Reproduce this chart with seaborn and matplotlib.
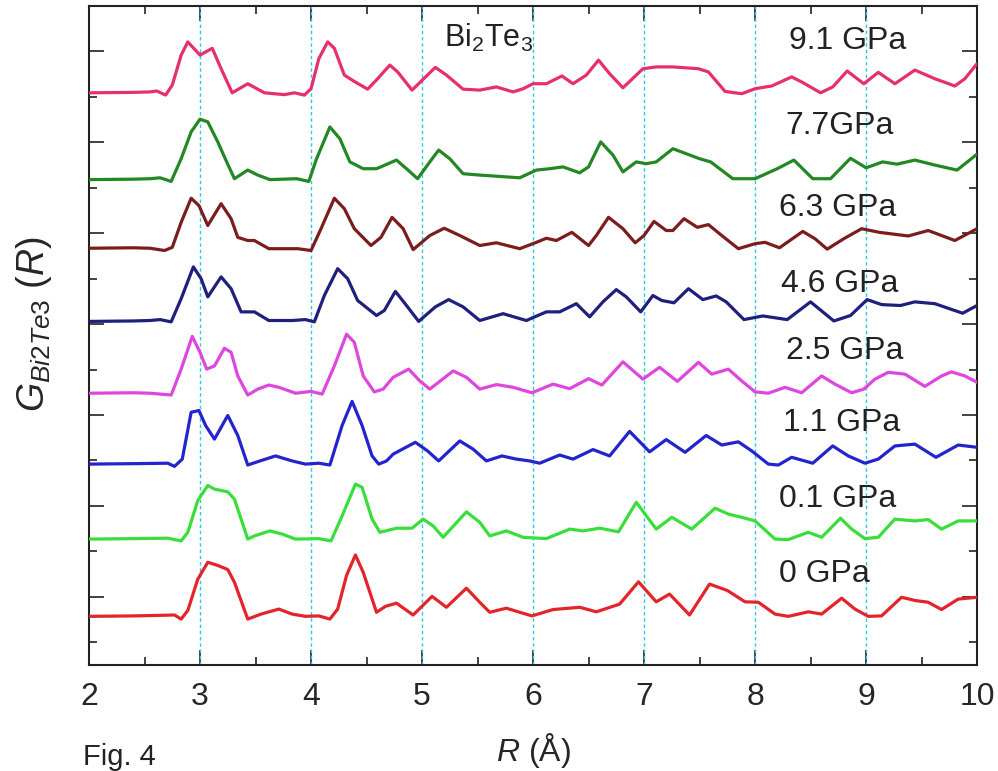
import numpy as np
import pandas as pd
import matplotlib
matplotlib.use("Agg")
import matplotlib.pyplot as plt
import seaborn as sns

# pressure labels, bottom to top
pressures = ["0 GPa", "0.1 GPa", "1.1 GPa", "2.5 GPa", "4.6 GPa", "6.3 GPa", "7.7GPa", "9.1 GPa"]
offsets = [0.57, 2.27, 3.92, 5.48, 7.06, 8.67, 10.18, 12.08]
colors = ["#e3242b", "#3ade3a", "#2424cf", "#df46df", "#1f1f7d", "#7c1d1d", "#238823", "#e5306c"]

# G(R), (R, G) relative to each curve's baseline
p00 = [(2.00, 0.00), (2.40, 0.01), (2.60, 0.02), (2.77, 0.03), (2.83, -0.06), (2.89, 0.13), (2.98, 0.82),
       (3.07, 1.19), (3.16, 1.12), (3.25, 1.03), (3.31, 0.75), (3.43, -0.06), (3.55, 0.05), (3.71, 0.16),
       (3.83, 0.05), (3.95, 0.00), (4.07, 0.01), (4.17, -0.06), (4.24, 0.16), (4.32, 0.90), (4.40, 1.35),
       (4.47, 0.97), (4.59, 0.09), (4.67, 0.22), (4.77, 0.29), (4.92, 0.03), (5.09, 0.44), (5.22, 0.20),
       (5.40, 0.62), (5.52, 0.31), (5.61, 0.09), (5.76, 0.18), (5.88, 0.09), (5.99, 0.01), (6.18, 0.15),
       (6.42, 0.20), (6.57, 0.10), (6.78, 0.27), (6.95, 0.76), (7.11, 0.32), (7.23, 0.49), (7.41, 0.03),
       (7.59, 0.71), (7.75, 0.57), (7.91, 0.32), (8.03, 0.31), (8.18, 0.05), (8.30, 0.00), (8.48, 0.10),
       (8.60, 0.05), (8.78, 0.40), (8.90, 0.16), (9.02, 0.00), (9.14, 0.01), (9.32, 0.42), (9.44, 0.35),
       (9.56, 0.31), (9.68, 0.15), (9.83, 0.38), (10.00, 0.42)]
p01 = [(2.00, 0.00), (2.40, 0.01), (2.71, 0.02), (2.83, -0.04), (2.89, 0.15), (2.98, 0.85), (3.07, 1.18),
       (3.13, 1.10), (3.25, 1.04), (3.31, 0.88), (3.43, 0.00), (3.49, 0.07), (3.63, 0.18), (3.74, 0.11),
       (3.86, 0.00), (4.07, 0.01), (4.18, -0.04), (4.28, 0.51), (4.40, 1.21), (4.46, 1.14), (4.55, 0.44),
       (4.62, 0.15), (4.77, 0.24), (4.91, 0.24), (5.01, 0.44), (5.10, 0.29), (5.19, 0.04), (5.40, 0.60),
       (5.52, 0.37), (5.61, 0.07), (5.76, 0.18), (5.91, 0.04), (6.12, 0.01), (6.33, 0.22), (6.45, 0.18),
       (6.60, 0.24), (6.77, 0.16), (6.93, 0.81), (7.11, 0.22), (7.25, 0.48), (7.43, 0.22), (7.64, 0.68),
       (7.76, 0.55), (7.88, 0.48), (8.00, 0.40), (8.18, 0.00), (8.30, -0.01), (8.48, 0.15), (8.60, 0.04),
       (8.77, 0.46), (8.87, 0.22), (8.99, 0.01), (9.11, 0.04), (9.26, 0.44), (9.44, 0.40), (9.56, 0.43),
       (9.68, 0.22), (9.83, 0.40), (10.00, 0.40)]
p11 = [(2.00, 0.00), (2.40, 0.01), (2.71, 0.02), (2.77, -0.05), (2.84, 0.11), (2.92, 1.14), (2.99, 1.18),
       (3.05, 0.85), (3.13, 0.55), (3.25, 1.07), (3.34, 0.63), (3.43, -0.02), (3.54, 0.07), (3.68, 0.18),
       (3.83, 0.07), (3.95, 0.00), (4.07, 0.02), (4.17, -0.02), (4.28, 0.85), (4.37, 1.38), (4.46, 0.85),
       (4.55, 0.18), (4.61, 0.00), (4.68, 0.07), (4.74, 0.22), (4.94, 0.48), (5.05, 0.29), (5.15, 0.07),
       (5.34, 0.51), (5.46, 0.33), (5.58, 0.07), (5.72, 0.18), (5.85, 0.11), (5.97, 0.07), (6.06, 0.02),
       (6.24, 0.20), (6.36, 0.11), (6.54, 0.32), (6.69, 0.18), (6.87, 0.72), (7.05, 0.27), (7.20, 0.54),
       (7.37, 0.26), (7.56, 0.63), (7.70, 0.42), (7.85, 0.49), (7.97, 0.29), (8.12, 0.00), (8.21, -0.02),
       (8.33, 0.15), (8.52, 0.02), (8.70, 0.40), (8.84, 0.18), (8.99, 0.02), (9.11, 0.11), (9.26, 0.40),
       (9.44, 0.44), (9.63, 0.15), (9.83, 0.42), (10.00, 0.37)]
p25 = [(2.00, 0.00), (2.40, 0.01), (2.55, 0.00), (2.74, -0.04), (2.83, 0.53), (2.93, 1.25), (3.00, 0.90),
       (3.06, 0.53), (3.13, 0.60), (3.22, 0.99), (3.28, 0.90), (3.34, 0.38), (3.43, -0.04), (3.52, 0.09),
       (3.62, 0.18), (3.71, 0.13), (3.86, 0.00), (4.00, 0.04), (4.10, -0.02), (4.21, 0.60), (4.32, 1.30),
       (4.39, 1.12), (4.47, 0.38), (4.57, 0.03), (4.65, 0.09), (4.74, 0.35), (4.88, 0.53), (4.98, 0.27),
       (5.07, 0.09), (5.28, 0.49), (5.40, 0.35), (5.52, 0.09), (5.67, 0.19), (5.82, 0.13), (5.99, 0.01),
       (6.18, 0.20), (6.33, 0.10), (6.50, 0.32), (6.62, 0.18), (6.81, 0.69), (6.99, 0.31), (7.14, 0.57),
       (7.30, 0.26), (7.49, 0.68), (7.61, 0.42), (7.76, 0.53), (7.88, 0.27), (8.00, 0.03), (8.12, 0.00),
       (8.27, 0.13), (8.42, 0.01), (8.60, 0.38), (8.72, 0.20), (8.87, 0.01), (8.98, 0.09), (9.08, 0.31),
       (9.20, 0.46), (9.35, 0.42), (9.53, 0.15), (9.68, 0.38), (9.77, 0.47), (9.89, 0.38), (10.00, 0.24)]
p46 = [(2.00, 0.00), (2.40, 0.01), (2.55, 0.02), (2.64, 0.04), (2.74, -0.01), (2.83, 0.50), (2.94, 1.20),
       (3.01, 0.94), (3.07, 0.54), (3.19, 0.98), (3.28, 0.72), (3.37, 0.21), (3.49, 0.21), (3.62, 0.02),
       (3.83, 0.02), (3.95, 0.04), (4.03, -0.01), (4.12, 0.57), (4.24, 1.16), (4.33, 0.94), (4.42, 0.46),
       (4.59, 0.13), (4.66, 0.24), (4.76, 0.66), (4.86, 0.35), (4.97, 0.00), (5.12, 0.32), (5.24, 0.48),
       (5.37, 0.32), (5.52, 0.02), (5.73, 0.17), (5.94, 0.02), (6.12, 0.21), (6.24, 0.21), (6.39, 0.39),
       (6.51, 0.10), (6.63, 0.43), (6.75, 0.70), (6.84, 0.54), (6.97, 0.21), (7.08, 0.57), (7.16, 0.46),
       (7.27, 0.41), (7.40, 0.72), (7.53, 0.48), (7.65, 0.56), (7.74, 0.43), (7.90, 0.04), (8.07, 0.12),
       (8.29, 0.04), (8.50, 0.43), (8.61, 0.21), (8.71, 0.01), (8.86, 0.13), (9.01, 0.48), (9.14, 0.37),
       (9.31, 0.35), (9.44, 0.43), (9.62, 0.39), (9.87, 0.18), (10.00, 0.35)]
p63 = [(2.00, 0.00), (2.40, 0.01), (2.55, 0.00), (2.68, -0.05), (2.75, 0.02), (2.83, 0.57), (2.92, 1.10),
       (2.99, 0.94), (3.07, 0.50), (3.19, 0.98), (3.28, 0.65), (3.34, 0.24), (3.43, 0.17), (3.49, 0.17),
       (3.62, -0.01), (3.88, -0.01), (4.00, -0.05), (4.09, 0.43), (4.21, 1.10), (4.30, 0.87), (4.39, 0.43),
       (4.54, 0.06), (4.63, 0.24), (4.73, 0.68), (4.83, 0.43), (4.92, -0.03), (5.07, 0.28), (5.20, 0.44),
       (5.34, 0.28), (5.52, 0.06), (5.67, 0.12), (5.88, -0.01), (6.03, 0.13), (6.12, 0.22), (6.21, 0.17),
       (6.35, 0.35), (6.50, 0.06), (6.57, 0.28), (6.68, 0.68), (6.81, 0.43), (6.92, 0.12), (7.00, 0.28),
       (7.09, 0.59), (7.20, 0.39), (7.26, 0.39), (7.36, 0.65), (7.48, 0.46), (7.58, 0.52), (7.70, 0.28),
       (7.85, -0.01), (8.00, 0.10), (8.09, 0.13), (8.22, 0.01), (8.43, 0.37), (8.54, 0.21), (8.65, -0.02),
       (8.80, 0.21), (8.96, 0.43), (9.12, 0.35), (9.38, 0.27), (9.56, 0.39), (9.80, 0.17), (10.00, 0.43)]
p77 = [(2.00, 0.00), (2.40, 0.01), (2.55, 0.02), (2.64, 0.04), (2.74, -0.04), (2.83, 0.46), (2.92, 1.05),
       (3.00, 1.33), (3.07, 1.27), (3.16, 0.83), (3.24, 0.39), (3.31, 0.02), (3.43, 0.21), (3.52, 0.10),
       (3.63, 0.00), (3.87, 0.02), (3.98, -0.04), (4.05, 0.46), (4.17, 1.16), (4.26, 0.90), (4.35, 0.39),
       (4.47, 0.24), (4.59, 0.24), (4.77, 0.43), (4.86, 0.24), (4.96, 0.02), (5.07, 0.39), (5.15, 0.65),
       (5.25, 0.46), (5.37, 0.13), (5.52, 0.10), (5.76, 0.06), (5.88, 0.04), (6.03, 0.21), (6.15, 0.24),
       (6.27, 0.28), (6.42, 0.15), (6.50, 0.28), (6.61, 0.83), (6.72, 0.54), (6.81, 0.17), (6.93, 0.39),
       (7.02, 0.35), (7.11, 0.39), (7.26, 0.68), (7.50, 0.46), (7.60, 0.39), (7.80, 0.02), (8.00, 0.02),
       (8.20, 0.24), (8.35, 0.43), (8.52, 0.02), (8.68, 0.02), (8.86, 0.47), (9.00, 0.26), (9.15, 0.39),
       (9.28, 0.34), (9.44, 0.43), (9.62, 0.32), (9.82, 0.21), (10.00, 0.56)]
p91 = [(2.00, 0.01), (2.40, 0.02), (2.55, 0.03), (2.61, 0.05), (2.69, -0.04), (2.75, 0.18), (2.83, 0.84),
       (2.89, 1.13), (3.00, 0.84), (3.11, 0.99), (3.19, 0.54), (3.29, 0.01), (3.43, 0.21), (3.58, 0.01),
       (3.76, -0.03), (3.85, 0.01), (3.94, -0.04), (4.00, 0.10), (4.07, 0.76), (4.15, 1.13), (4.21, 0.99),
       (4.30, 0.40), (4.39, 0.26), (4.51, 0.09), (4.60, 0.32), (4.71, 0.62), (4.78, 0.47), (4.91, 0.07),
       (5.12, 0.57), (5.22, 0.40), (5.37, 0.09), (5.52, 0.07), (5.67, 0.14), (5.82, 0.03), (5.91, 0.10),
       (6.00, 0.21), (6.12, 0.21), (6.26, 0.38), (6.36, 0.21), (6.48, 0.40), (6.59, 0.73), (6.69, 0.43),
       (6.81, 0.12), (6.99, 0.54), (7.11, 0.58), (7.26, 0.58), (7.49, 0.54), (7.58, 0.47), (7.73, 0.04),
       (7.88, -0.01), (8.00, 0.10), (8.15, 0.16), (8.33, 0.36), (8.42, 0.25), (8.59, 0.01), (8.70, 0.14),
       (8.83, 0.49), (8.98, 0.21), (9.11, 0.46), (9.26, 0.21), (9.44, 0.51), (9.62, 0.32), (9.80, 0.16),
       (9.89, 0.32), (10.00, 0.65)]

curves = [p00, p01, p11, p25, p46, p63, p77, p91]

# text label baselines (data units) and left edges (R)
label_y = [1.32, 2.97, 4.65, 6.23, 7.71, 9.38, 11.19, 13.06]
label_x = [8.22, 8.22, 8.25, 8.28, 8.23, 8.22, 8.27, 8.31]

rows = []
for name, off, pts in zip(pressures, offsets, curves):
    for r, g in pts:
        rows.append({"R": r, "G": g + off, "P": name})
df = pd.DataFrame(rows)

sns.set_style("ticks")
plt.rcParams["font.family"] = ["Liberation Sans", "DejaVu Sans"]
plt.rcParams["mathtext.fontset"] = "custom"
plt.rcParams["mathtext.rm"] = "Liberation Sans"
plt.rcParams["mathtext.it"] = "Liberation Sans:italic"

fig = plt.figure(figsize=(9.98, 7.71), dpi=100)
ax = fig.add_axes([0.0892, 0.1375, 0.8898, 0.8547])

for x in range(3, 10):
    ax.axvline(x, color="#2ccbe6", ls=(0, (2.5, 2)), lw=1.0, zorder=1)

sns.lineplot(data=df, x="R", y="G", hue="P", hue_order=pressures,
             palette=dict(zip(pressures, colors)), lw=2.3, legend=False, ax=ax, zorder=3,
             solid_joinstyle="round", solid_capstyle="round")

for name, lx, ly in zip(pressures, label_x, label_y):
    ax.text(lx, ly, name, fontsize=23, va="baseline", ha="left", color="#222222")
ax.text(5.20, 13.1, r"Bi$_2$Te$_3$", fontsize=22, va="baseline", ha="left", color="#222222")

ax.set_xlim(2, 10)
ax.set_ylim(-0.5, 14.0)
ax.set_xticks(range(2, 11))
ax.set_xticks(np.arange(2.5, 10, 1.0), minor=True)
ax.set_yticks(range(1, 14, 2))
ax.set_yticks(range(0, 14, 2), minor=True)
ax.tick_params(which="both", direction="in", top=True, right=True, labelleft=False, width=1.2, color="#222222")
ax.tick_params(which="major", length=11, labelsize=23, pad=12)
ax.tick_params(which="minor", length=6)
for s in ax.spines.values():
    s.set_linewidth(1.5)
    s.set_color("#222222")

ax.set_xlabel(r"$R$ (Å)", fontsize=23, labelpad=14)
ax.set_ylabel(r"$G_{\mathit{Bi2Te3}}$ ($R$)", fontsize=27)
ax.yaxis.set_label_coords(-0.039, 0.517)

fig.text(0.083, 0.008, "Fig. 4", fontsize=21, va="baseline", color="#222222")

fig.savefig("out.png", dpi=100)
